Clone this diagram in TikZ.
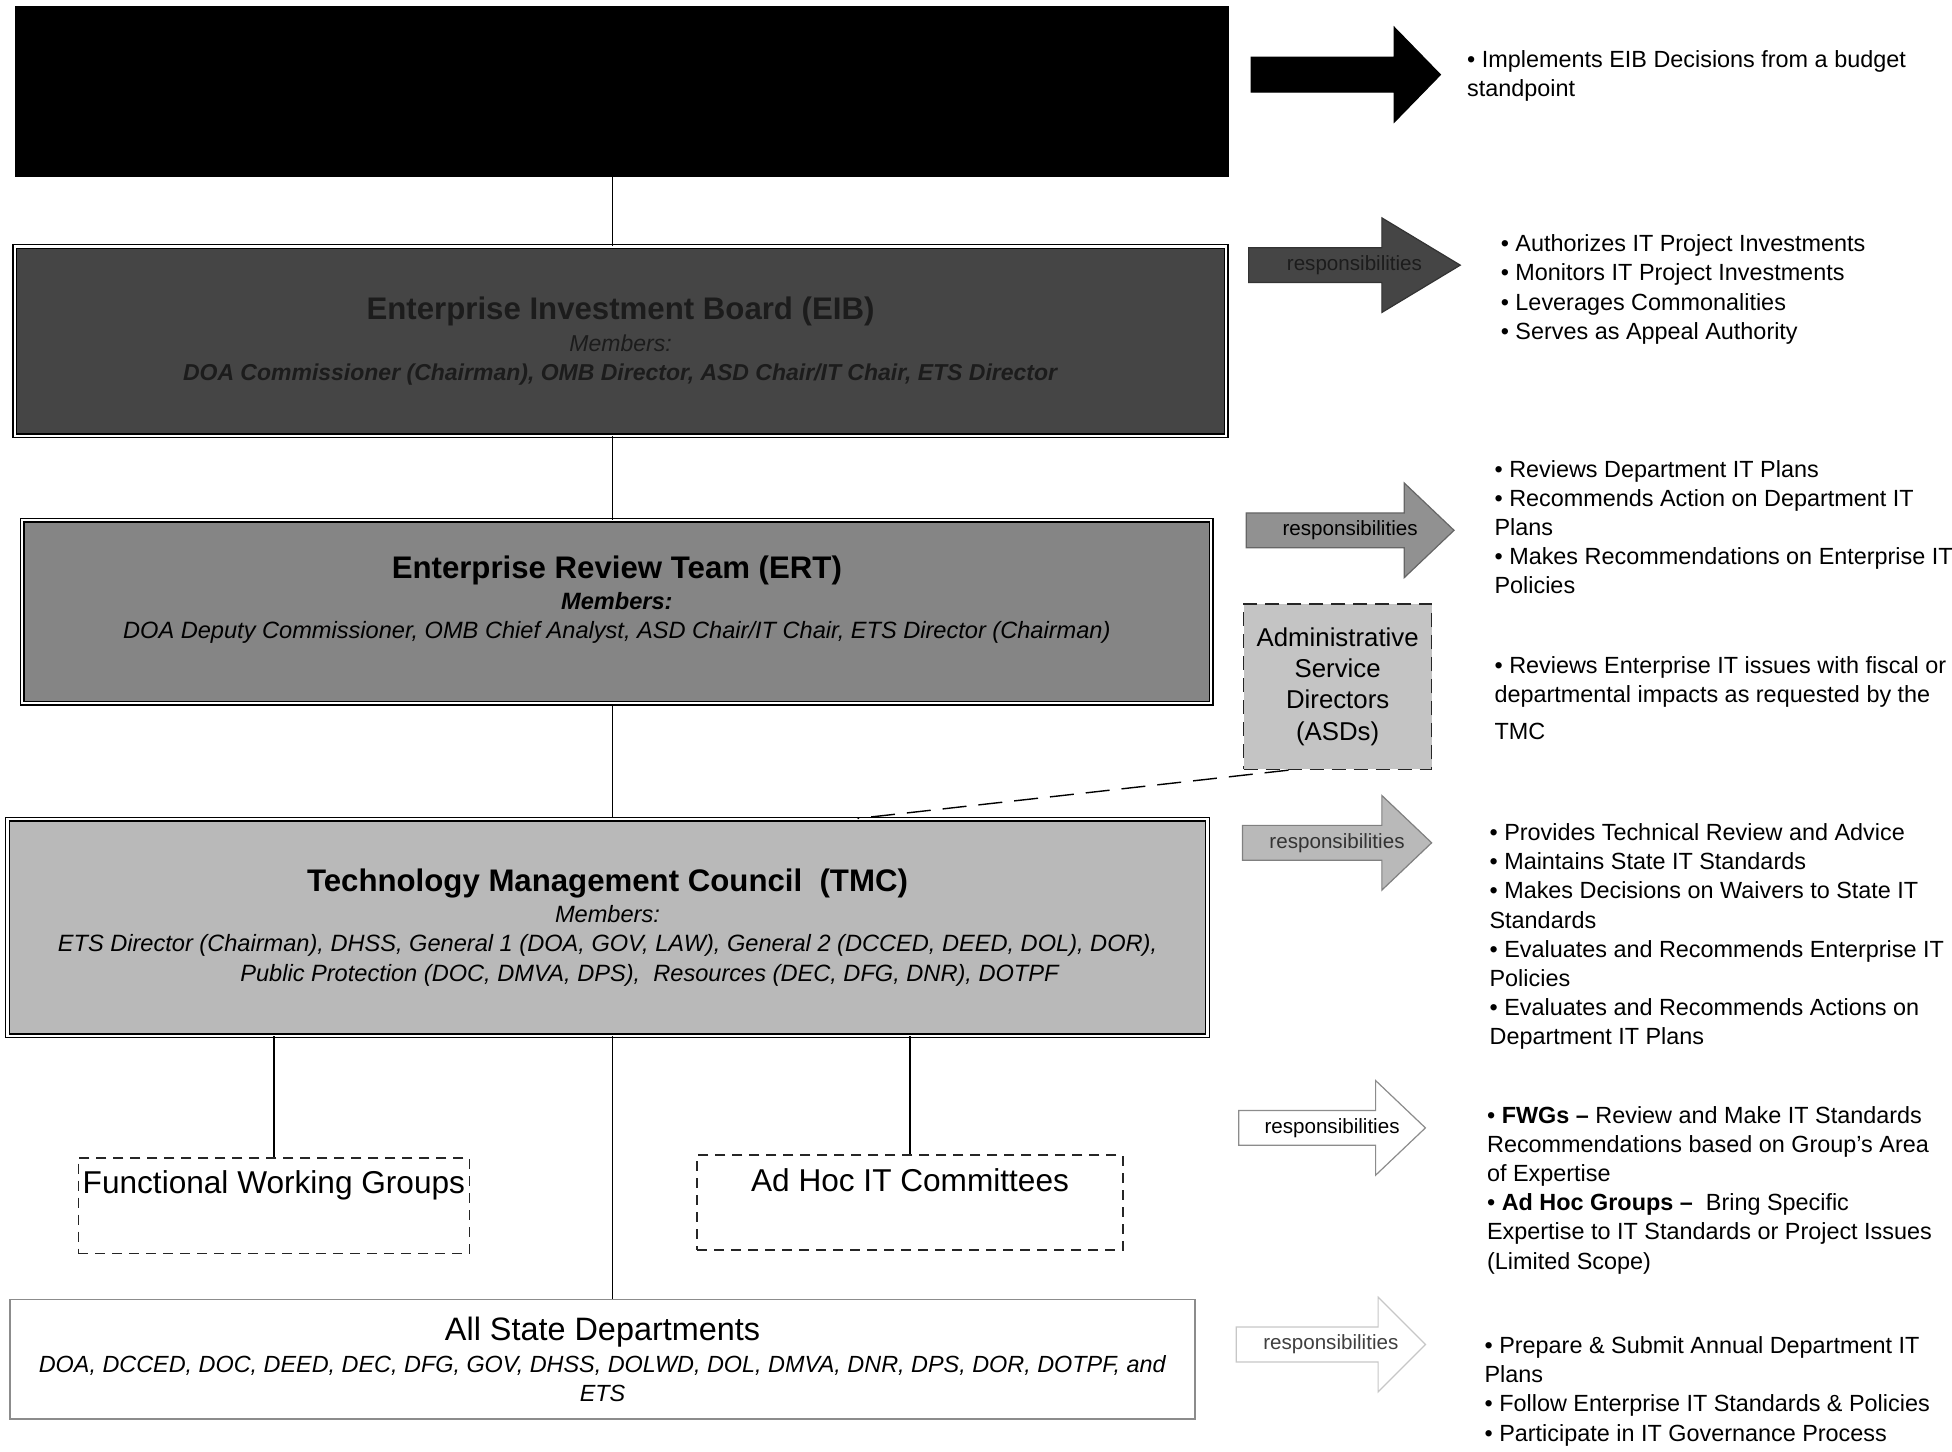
\documentclass[tikz,border=0pt]{standalone}
\usepackage{fontspec}
\setmainfont{Liberation Sans}
\usepackage{tikz}
\definecolor{eibgray}{HTML}{454545}
\definecolor{eibtext}{HTML}{1C1C1C}
\definecolor{ertgray}{HTML}{858585}
\definecolor{tmcgray}{HTML}{B9B9B9}
\definecolor{asdgray}{HTML}{C4C4C4}
\tikzset{
  board/.style={draw=black, double=white, line width=0.7pt, double distance=1.1pt, align=center, inner sep=0pt},
  dashbox/.style={draw=black!85, dash pattern=on 5pt off 3.5pt, line width=0.8pt, inner sep=0pt, font=\fontsize{15.8}{18}\selectfont},
  resptext/.style={anchor=north west, align=left, inner sep=0pt, font=\fontsize{11.7}{14.6}\selectfont},
  arrowlabel/.style={font=\fontsize{10.3}{12}\selectfont, inner sep=0pt}
}
\newcommand{\boxtitle}[1]{{\bfseries\fontsize{15.6}{18}\selectfont #1}}

\begin{document}
\begin{tikzpicture}[x=0.6225pt, y=-0.6225pt, line width=0.7pt]
    \useasboundingbox (0,0) rectangle (1568,1166);
    % boards and teams
    \node[fill=black, minimum width=606.9pt, minimum height=85.3pt, inner sep=0pt] (omb) at (499.5,73.5) {};
    \node[board, fill=eibgray, text=eibtext, minimum width=605.7pt, minimum height=94.6pt,
          font=\fontsize{11.5}{14.6}\selectfont] (eib) at (498.5,274)
        {\boxtitle{Enterprise Investment Board (EIB)}\\[1.6pt]
         \textit{Members:}\\
         \textit{\bfseries DOA Commissioner (Chairman), OMB Director, ASD Chair/IT Chair, ETS Director}};
    \node[board, fill=ertgray, minimum width=594.5pt, minimum height=91.5pt,
          font=\fontsize{11.8}{14.4}\selectfont] (ert) at (495.5,491.5)
        {\boxtitle{Enterprise Review Team (ERT)}\\[1.2pt]
         \textit{\bfseries Members:}\\
         \textit{DOA Deputy Commissioner, OMB Chief Analyst, ASD Chair/IT Chair, ETS Director (Chairman)}\\[0.7pt]\mbox{}};
    \node[board, fill=tmcgray, minimum width=600.1pt, minimum height=108.3pt,
          font=\fontsize{11.8}{14.8}\selectfont] (tmc) at (488,745)
        {\boxtitle{Technology Management Council \ (TMC)}\\[0.6pt]
         \textit{Members:}\\
         \textit{ETS Director (Chairman), DHSS, General 1 (DOA, GOV, LAW), General 2 (DCCED, DEED, DOL), DOR),}\\
         \textit{\hspace*{3.6em}Public Protection (DOC, DMVA, DPS), \ Resources (DEC, DFG, DNR), DOTPF}};
    \node[dashbox, minimum width=195.5pt, text height=18pt, text depth=30pt] (fwg) at (220,968.5)
        {Functional Working Groups};
    \node[dashbox, minimum width=212.9pt, text height=18pt, text depth=29.3pt] (adhoc) at (731,966)
        {Ad Hoc IT Committees};
    \node[draw=black!45, line width=0.8pt, align=center, minimum width=592.6pt, minimum height=59.8pt,
          inner sep=0pt, font=\fontsize{11.7}{14.8}\selectfont] (depts) at (484,1092)
        {{\fontsize{16.2}{18}\selectfont All State Departments}\\[1pt]
         \textit{DOA, DCCED, DOC, DEED, DEC, DFG, GOV, DHSS, DOLWD, DOL, DMVA, DNR, DPS, DOR, DOTPF, and}\\
         \textit{ETS}};
    \node[fill=asdgray, draw=black!85, dash pattern=on 7pt off 4pt, line width=0.8pt, align=center,
          minimum width=94pt, minimum height=82.8pt, inner sep=0pt,
          font=\fontsize{12.9}{15.6}\selectfont] (asd) at (1074.5,551.5)
        {Administrative\\Service\\Directors\\(ASDs)};
    % connectors
    \coordinate (spine) at (492,0);
    \draw (omb.south -| spine) -- (eib.north -| spine);
    \draw (eib.south -| spine) -- (ert.north -| spine);
    \draw (ert.south -| spine) -- (tmc.north -| spine);
    \draw (tmc.south -| spine) -- (depts.north -| spine);
    \draw (tmc.south -| fwg.north) -- (fwg.north);
    \draw (tmc.south -| adhoc.north) -- (adhoc.north);
    \draw[dash pattern=on 12pt off 6pt] ([xshift=-24.6pt]asd.south) -- ([xshift=125pt]tmc.north);
    % responsibility arrows
    \foreach \yy/\xa/\xb/\xc/\fc/\dc/\tc/\nm/\lab in {
        60/1005/1120/1157/black/black/black/omb-r/{},
        213/1003/1110/1173/eibgray/black!80/eibtext/eib-r/responsibilities,
        426/1001/1128/1168/ertgray!90/black!60/black/ert-r/responsibilities,
        677/998/1110/1150/tmcgray/black!50/black!80/tmc-r/responsibilities,
        906/995/1105/1145/white/black!45/black/grp-r/responsibilities,
        1080/993/1107/1145/white/black!22/black!75/dep-r/responsibilities} {
        \draw[fill=\fc, draw=\dc, line width=0.6pt] (\xa,\yy-14) -- (\xb,\yy-14) -- (\xb,\yy-38)
            -- (\xc,\yy) -- (\xb,\yy+38) -- (\xb,\yy+14) -- (\xa,\yy+14) -- cycle;
        \node[arrowlabel, text=\tc] (\nm) at ({(\xa+\xc)/2},\yy) {\lab};
    }
    % responsibilities text
    \node[resptext] (omb-t) at (1178,40) {• Implements EIB Decisions from a budget\\standpoint};
    \node[resptext] (eib-t) at (1205,188) {• Authorizes IT Project Investments\\• Monitors IT Project Investments\\%
        • Leverages Commonalities\\• Serves as Appeal Authority};
    \node[resptext] (ert-t) at (1200,369) {• Reviews Department IT Plans\\• Recommends Action on Department IT\\%
        Plans\\• Makes Recommendations on Enterprise IT\\Policies};
    \node[resptext] (asd-t) at (1200,527) {• Reviews Enterprise IT issues with fiscal or\\%
        departmental impacts as requested by the\\[3.5pt]TMC};
    \node[resptext] (tmc-t) at (1196,661) {• Provides Technical Review and Advice\\• Maintains State IT Standards\\%
        • Makes Decisions on Waivers to State IT\\Standards\\• Evaluates and Recommends Enterprise IT\\%
        Policies\\• Evaluates and Recommends Actions on\\Department IT Plans};
    \node[resptext] (grp-t) at (1194,888) {• \textbf{FWGs –} Review and Make IT Standards\\%
        Recommendations based on Group's Area\\of Expertise\\• \textbf{Ad Hoc Groups –} \ Bring Specific\\%
        Expertise to IT Standards or Project Issues\\(Limited Scope)};
    \node[resptext] (dep-t) at (1192,1073) {• Prepare \& Submit Annual Department IT\\Plans\\%
        • Follow Enterprise IT Standards \& Policies\\• Participate in IT Governance Process};
\end{tikzpicture}
\end{document}
